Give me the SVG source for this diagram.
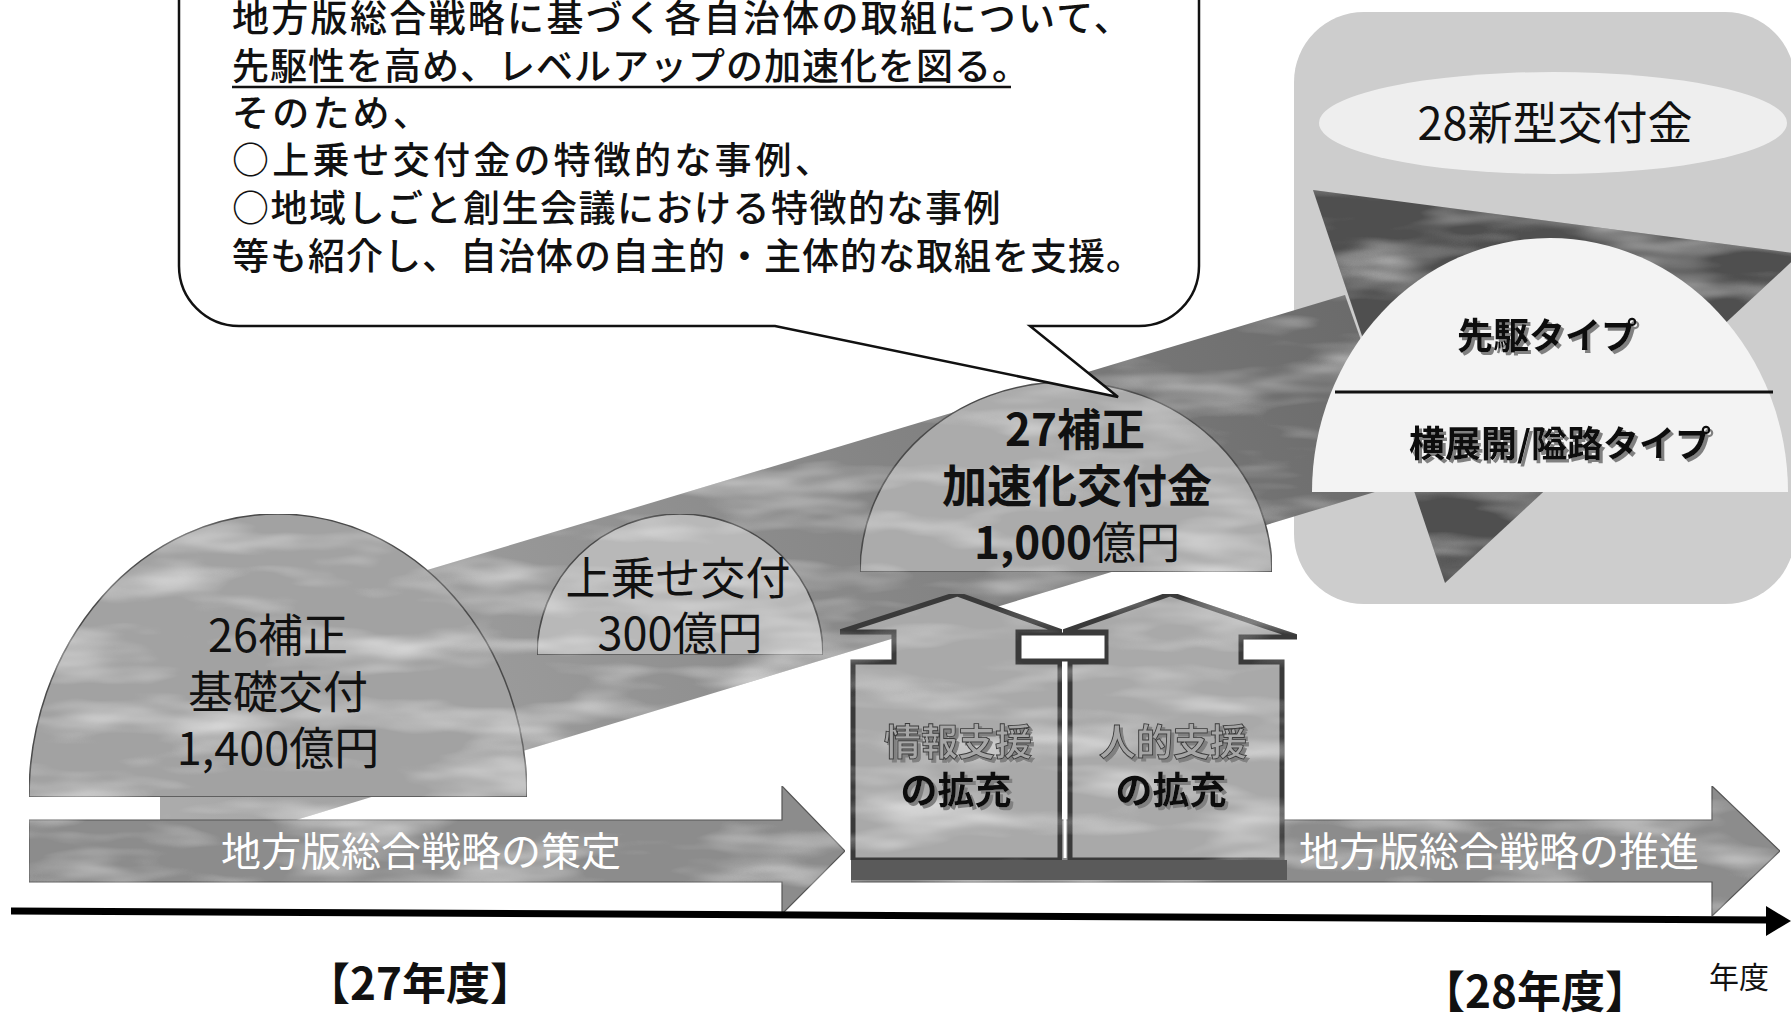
<svg xmlns="http://www.w3.org/2000/svg" width="1791" height="1022" viewBox="0 0 1791 1022">
<defs>
<style>
.jp{font-family:"Noto Sans CJK JP","Noto Sans",sans-serif;}
.bub{font-size:37px;fill:#111;font-weight:500;}
.dome-t{font-size:45px;fill:#111;text-anchor:middle;}
.strat{font-size:40px;fill:#fff;text-anchor:middle;}
.hs1{fill:#a6a6a6;stroke:#3a3a3a;stroke-width:0.9;}
.hs2{fill:#111;}
.hs{font-size:37px;text-anchor:middle;font-weight:700;}
.typ{font-size:36px;fill:#111;text-anchor:middle;font-weight:700;}
.yr{font-size:44px;fill:#111;text-anchor:middle;font-weight:700;}
.dome{stroke:#4a4a4a;stroke-width:1.5;}
.house{fill:#a9a9a9;stroke:#3a3a3a;stroke-width:5;stroke-linejoin:miter;}
</style>
<linearGradient id="bandG" x1="160" y1="740" x2="1411" y2="300" gradientUnits="userSpaceOnUse">
<stop offset="0" stop-color="#ababab"/>
<stop offset="0.5" stop-color="#8a8a8a"/>
<stop offset="1" stop-color="#686868"/>
</linearGradient>
<filter id="tex" x="0%" y="0%" width="100%" height="100%" color-interpolation-filters="sRGB">
<feTurbulence type="fractalNoise" baseFrequency="0.007 0.03" numOctaves="3" seed="7" result="noise"/>
<feColorMatrix in="noise" type="matrix" values="0 0 0 0 1  0 0 0 0 1  0 0 0 0 1  1.3 0 0 0 -0.6" result="hl"/>
<feComposite in="hl" in2="SourceAlpha" operator="in" result="hlc"/>
<feMerge><feMergeNode in="SourceGraphic"/><feMergeNode in="hlc"/></feMerge>
</filter>
<filter id="sh" x="-10%" y="-20%" width="130%" height="150%">
<feDropShadow dx="3" dy="3" stdDeviation="0.6" flood-color="#808080" flood-opacity="1"/>
</filter>
</defs>
<rect width="1791" height="1022" fill="#ffffff"/>

<g id="box28">
<rect x="1294" y="12" width="501" height="592" rx="70" fill="#cdcdcd"/>
<ellipse cx="1553" cy="123" rx="234" ry="51" fill="#eeeeee"/>
<text class="jp" x="1555" y="140" font-size="45" text-anchor="middle" fill="#111">28新型交付金</text>
</g>

<g id="band">
<polygon points="160,650 1345,295 1411,481 263,830 160,830" fill="url(#bandG)" filter="url(#tex)"/>
<polygon points="1313,190 1800,254 1445,583" fill="#4f4f4f" filter="url(#tex)"/>
</g>

<g id="dome28">
<path d="M1312,492 A238,254 0 0 1 1788,492 Z" fill="#f3f3f3"/>
<line x1="1335" y1="392" x2="1773" y2="392" stroke="#111" stroke-width="3"/>
<text class="jp typ" x="1547" y="349" filter="url(#sh)">先駆タイプ</text>
<text class="jp typ" x="1560" y="457" font-size="37" filter="url(#sh)">横展開/隘路タイプ</text>
</g>

<g id="dome26">
<path class="dome" d="M29,797 A249,283 0 0 1 527,797 Z" fill="#a2a2a2" filter="url(#tex)"/>
<text class="jp dome-t"><tspan x="278" y="652">26補正</tspan><tspan x="278" y="709">基礎交付</tspan><tspan x="278" y="765">1,400億円</tspan></text>
</g>

<g id="dome-uwanose">
<path class="dome" d="M537,655 A143,141 0 0 1 823,655 Z" fill="#b8b8b8" filter="url(#tex)"/>
<text class="jp dome-t" font-size="43"><tspan x="678" y="595">上乗せ交付</tspan><tspan x="680" y="650">300億円</tspan></text>
</g>

<g id="dome27">
<path class="dome" d="M860,572 A206,190 0 0 1 1272,572 Z" fill="#ababab" filter="url(#tex)"/>
<text class="jp dome-t"><tspan x="1075" y="446" font-size="44" font-weight="700">27補正</tspan><tspan x="1077" y="503" font-weight="700">加速化交付金</tspan><tspan x="1077" y="559" font-size="44"><tspan font-weight="700">1,000</tspan>億円</tspan></text>
</g>

<g id="arrow-sakutei">
<polygon points="29,820 782,820 782,786 845,851 782,914 782,882 29,882" fill="#8c8c8c" stroke="#555" stroke-width="1.2" filter="url(#tex)"/>
<text class="jp strat" x="421" y="866">地方版総合戦略の策定</text>
</g>

<g id="arrow-suishin">
<polygon points="851,820 1712,820 1712,786 1780,851 1712,916 1712,882 851,882" fill="#8c8c8c" stroke="#555" stroke-width="1.2" filter="url(#tex)"/>
<text class="jp strat" x="1499" y="866">地方版総合戦略の推進</text>
</g>

<g id="houses">
<rect x="851" y="860" width="436" height="20" fill="#5a5a5a"/>
<path class="house" d="M840,632 L957,594 L1062,632 L1018,632 L1018,662 L1060,662 L1060,860 L853,860 L853,662 L894,662 L894,632 Z" filter="url(#tex)"/>
<path class="house" d="M1063,632 L1170,594 L1297,637 L1241,637 L1241,662 L1282,662 L1282,860 L1070,860 L1070,662 L1106,662 L1106,632 Z" filter="url(#tex)"/>
<rect x="1020" y="634" width="86" height="26" fill="#ffffff" stroke="#3a3a3a" stroke-width="3"/>
<line x1="1065" y1="662" x2="1065" y2="858" stroke="#ffffff" stroke-width="3"/>
<g id="house-info">
<text class="jp hs" filter="url(#sh)"><tspan class="hs1" x="958" y="756">情報支援</tspan><tspan class="hs2" x="956" y="804">の拡充</tspan></text>
</g>
<g id="house-human">
<text class="jp hs" filter="url(#sh)"><tspan class="hs1" x="1173" y="756">人的支援</tspan><tspan class="hs2" x="1171" y="804">の拡充</tspan></text>
</g>
</g>

<g id="timeline">
<line x1="11" y1="911" x2="1770" y2="920" stroke="#000" stroke-width="7"/>
<polygon points="1766,906 1791,921 1766,936" fill="#000"/>
</g>

<g id="callout">
<path d="M179,-60 L179,266 A60,60 0 0 0 239,326 L775,326 L1118,397 L1030,326 L1139,326 A60,60 0 0 0 1199,266 L1199,-60 Z" fill="#ffffff" stroke="#111" stroke-width="2.5"/>
<text class="jp bub" x="232" y="32" letter-spacing="2.3">地方版総合戦略に基づく各自治体の取組について、</text>
<text class="jp bub" x="232" y="80" letter-spacing="1">先駆性を高め、レベルアップの加速化を図る。</text>
<line x1="232" y1="87" x2="1011" y2="87" stroke="#111" stroke-width="2.5"/>
<text class="jp bub" x="232" y="127" letter-spacing="3.2">そのため、</text>
<text class="jp bub" x="232" y="174" letter-spacing="3.2">○上乗せ交付金の特徴的な事例、</text>
<text class="jp bub" x="232" y="222" letter-spacing="1.5">○地域しごと創生会議における特徴的な事例</text>
<text class="jp bub" x="232" y="270" letter-spacing="1">等も紹介し、自治体の自主的・主体的な取組を支援。</text>
</g>

<g id="labels">
<text class="jp yr" x="420" y="1000">【27年度】</text>
<text class="jp yr" x="1535" y="1008">【28年度】</text>
<text class="jp" x="1739" y="988" font-size="30" text-anchor="middle" fill="#111">年度</text>
</g>
</svg>
